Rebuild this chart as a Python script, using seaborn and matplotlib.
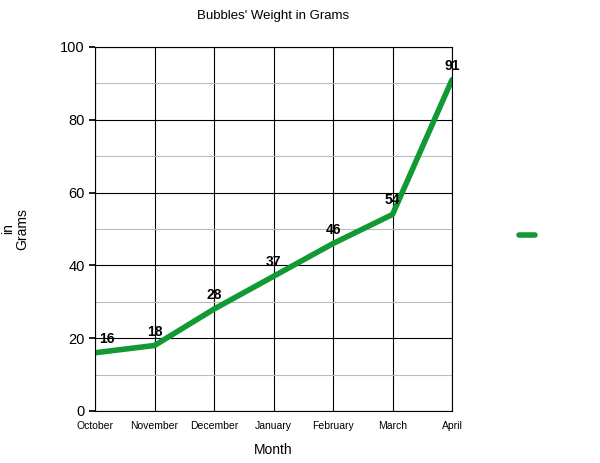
import matplotlib
matplotlib.use("Agg")
import matplotlib.pyplot as plt
import seaborn as sns
import pandas as pd

months = ["October", "November", "December", "January", "February", "March", "April"]
weights = [16, 18, 28, 37, 46, 54, 91]

sns.set_theme(style="white")
plt.rcParams['font.family'] = ['Liberation Sans', 'DejaVu Sans']

df = pd.DataFrame({"Month": months, "Weight": weights, "x": range(len(months))})

fig = plt.figure(figsize=(6, 4.63), dpi=100)
ax = fig.add_axes([95/600, 1-411/463, 357/600, 364/463])
sns.lineplot(data=df, x="x", y="Weight", ax=ax, color="#119933", linewidth=4, label=" ", sort=False)
ax.set_xlim(0, 6)
ax.set_ylim(0, 100)
ax.set_xticks(range(len(months)))
ax.set_xticklabels(months, fontsize=7.5, color='black')
ax.set_yticks(range(0, 101, 20))
ax.set_yticks(range(10, 100, 20), minor=True)
ax.tick_params(axis='y', labelsize=10.5, labelcolor='black', left=True, length=4, color='black')
ax.tick_params(axis='x', length=0, pad=7)
ax.grid(True, which='major', color='black', linewidth=0.8)
ax.grid(True, which='minor', axis='y', color='#bbbbbb', linewidth=0.8)
ax.tick_params(which='minor', length=0)
for s in ax.spines.values():
    s.set_color('black'); s.set_linewidth(0.8)
for xi, w in zip(df["x"], weights):
    ax.annotate(str(w), (xi, w), xytext=(0 if xi > 0 else 3, 5), textcoords='offset points',
                ha='center' if xi > 0 else 'left', va='bottom', fontsize=10, fontweight='bold', color='black')
ax.set_xlabel("Month", fontsize=10, labelpad=9, color='black')
ax.set_ylabel("Weight\nin\nGrams", fontsize=10, linespacing=1.0, color='black')
ax.yaxis.set_label_coords(-0.185, 0.5)
ax.set_title("Bubbles' Weight in Grams", fontsize=9.5, pad=20, color='black')
leg = ax.legend(loc='center left', bbox_to_anchor=(1.15, 0.48), frameon=False, handlelength=1.0)
fig.savefig("out.png", dpi=100)
